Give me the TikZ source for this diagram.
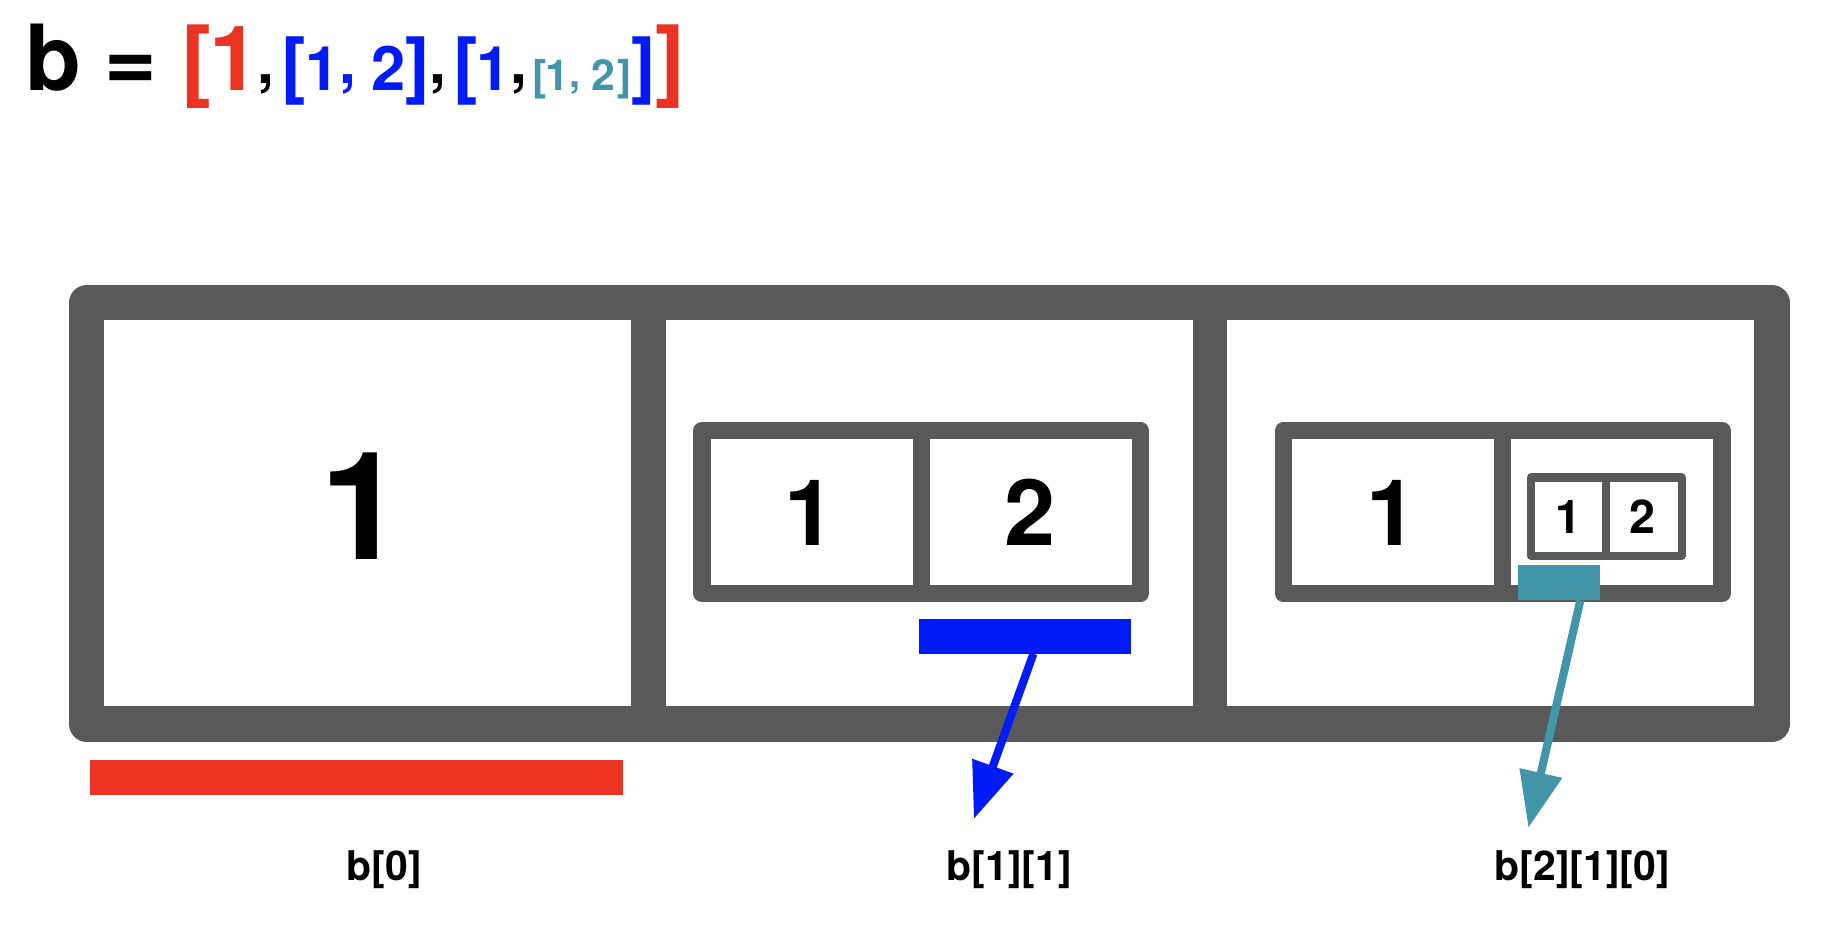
\documentclass[tikz,border=0pt]{standalone}
\usepackage{fontspec}
\setmainfont{TeX Gyre Heros}
\usetikzlibrary{arrows.meta}
\definecolor{boxgray}{RGB}{89,89,89}
\definecolor{lred}{RGB}{234,51,35}
\definecolor{lblue}{RGB}{0,27,246}
\definecolor{lteal}{RGB}{67,150,168}
\newcommand\fsz[1]{\fontsize{#1}{#1}\selectfont}
\begin{document}
\begin{tikzpicture}[x=1pt,y=-1pt,
  glyph/.style={anchor=base, inner sep=0pt, font=\bfseries\fsz{#1}},
  frame/.style={draw=boxgray, line width=#1, line join=round, inner sep=0pt},
  sep/.style={draw=boxgray, line width=#1},
  bar/.style={fill=#1, inner sep=0pt, anchor=north west},
  pointer/.style={draw=#1, fill=#1, line width=7, -{Triangle[length=48pt,width=35.6pt]}},
  lbl/.style={anchor=base, inner sep=0pt, font=\bfseries\fsz{35}}]
\useasboundingbox (0,0) rectangle (1568,796.8);
% ---------- title ----------
\node[glyph=78] (t01) at (46.0,77.5) {b};
\node[glyph=77] (t02) at (111.9,77.5) {=};
\node[glyph=77, text=lred] (t03) at (167.8,77.5) {[};
\node[glyph=77, text=lred] (t04) at (200.6,77.5) {1};
\node[glyph=52] (t05) at (227.3,71.4) {,};
\node[glyph=63, text=lblue] (t06) at (251.0,77.5) {[};
\node[glyph=52.5, text=lblue] (t07) at (276.1,77.5) {1};
\node[glyph=52, text=lblue] (t08) at (297.6,71.4) {,};
\node[glyph=52.5, text=lblue] (t09) at (332.3,77.5) {2};
\node[glyph=63, text=lblue] (t10) at (357.4,77.5) {]};
\node[glyph=52] (t11) at (374.5,71.4) {,};
\node[glyph=63, text=lblue] (t12) at (398.2,77.5) {[};
\node[glyph=52.5, text=lblue] (t13) at (422.3,77.5) {1};
\node[glyph=52] (t14) at (443.5,71.4) {,};
\node[glyph=36.5, text=lteal] (t15) at (461.7,77.5) {[};
\node[glyph=36.5, text=lteal] (t16) at (476.9,77.5) {1};
\node[glyph=34, text=lteal] (t17) at (491.5,74.6) {,};
\node[glyph=36.5, text=lteal] (t18) at (515.9,77.5) {2};
\node[glyph=36.5, text=lteal] (t19) at (533.6,77.5) {]};
\node[glyph=63, text=lblue] (t20) at (550.1,77.5) {]};
\node[glyph=77, text=lred] (t21) at (572.9,77.5) {]};
% ---------- outer list ----------
\node[frame=30, minimum width=1441, minimum height=360] (outer) at (794.5,439) {};
\draw[sep=29.5] (554.6,259) -- (554.6,619);
\draw[sep=29.5] (1034.6,259) -- (1034.6,619);
\node[glyph=128.6] (v0) at (310,478.4) {1};
% ---------- b[1] ----------
\node[frame=14.7, minimum width=374.8, minimum height=139.6] (mid) at (787.6,437.8) {};
\draw[sep=14.7] (mid.north) -- (mid.south);
\node[glyph=78.5] (v10) at (692.7,466.6) {1};
\node[glyph=78.5] (v11) at (880.6,466.6) {2};
% ---------- b[2] ----------
\node[frame=14.7, minimum width=374.9, minimum height=139.6] (right) at (1284.85,437.8) {};
\draw[sep=14.7] (right.north) -- (right.south);
\node[glyph=78.5] (v20) at (1190.1,466.6) {1};
\node[frame=7, minimum width=128.9, minimum height=67.1] (nest) at (1373.25,441.75) {};
\draw[sep=7] (nest.north) -- (nest.south);
\node[glyph=39.8] (v210) at (1340.8,456) {1};
\node[glyph=39.8] (v211) at (1404.5,456) {2};
% ---------- highlight bars ----------
\node[bar=lred, minimum width=455.3, minimum height=30] (redbar) at (77,649.4) {};
\node[bar=lblue, minimum width=181, minimum height=29.9] (bluebar) at (785.8,528.7) {};
\node[bar=lteal, minimum width=70, minimum height=30] (tealbar) at (1298,483) {};
% ---------- pointers ----------
\coordinate (bluetip) at (832.6,700.2);
\coordinate (tealtip) at (1306.7,707.7);
\draw[pointer=lblue] ([xshift=7pt]bluebar.south) -- (bluetip);
\draw[pointer=lteal] ([xshift=17.9pt]tealbar.south) -- (tealtip);
% ---------- labels ----------
\node[lbl] (l0) at (328.5,752.6) {b[0]};
\node[lbl] (l1) at (862.8,752.6) {b[1][1]};
\node[lbl] (l2) at (1352.7,752.6) {b[2][1][0]};
\end{tikzpicture}
\end{document}
